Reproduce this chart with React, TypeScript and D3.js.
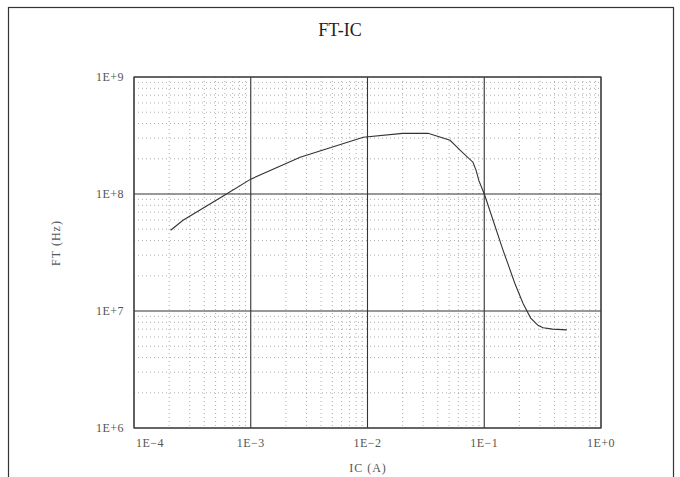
import React from "react";
import * as d3 from "d3";

const icValues = [2.06e-4, 2.63e-4, 6.0e-4, 1.0e-3, 2.65e-3, 9.2e-3, 2.0e-2, 3.3e-2, 5.1e-2, 6.2e-2, 8.0e-2, 8.5e-2, 9.0e-2, 0.101, 0.119, 0.145, 0.183, 0.215, 0.25, 0.29, 0.32, 0.385, 0.51];
const ftValues = [4.9e7, 5.96e7, 9.8e7, 1.34e8, 2.06e8, 3.06e8, 3.3e8, 3.3e8, 2.88e8, 2.37e8, 1.87e8, 1.6e8, 1.3e8, 9.75e7, 5.96e7, 3.3e7, 1.72e7, 1.16e7, 8.7e6, 7.5e6, 7.2e6, 7.0e6, 6.9e6];
const xTickValues = [1e-4, 1e-3, 1e-2, 1e-1, 1];
const xTickLabels = ["1E\u22124", "1E\u22123", "1E\u22122", "1E\u22121", "1E+0"];
const yTickValues = [1e6, 1e7, 1e8, 1e9];
const yTickLabels = ["1E+6", "1E+7", "1E+8", "1E+9"];
const title = "FT-IC";
const xTitle = "IC (A)";
const yTitle = "FT (Hz)";

const W = 680, H = 477;
const L = 134, R = 601, T = 77, B = 428;
const FONT = "'Liberation Serif', 'DejaVu Serif', serif";

export default function App() {
  const x = d3.scaleLog().domain([1e-4, 1]).range([L, R]);
  const y = d3.scaleLog().domain([1e6, 1e9]).range([B, T]);
  const minorX: number[] = [];
  for (let e = -4; e < 0; e++) for (let k = 2; k <= 9; k++) minorX.push(k * Math.pow(10, e));
  const minorY: number[] = [];
  for (let e = 6; e < 9; e++) for (let k = 2; k <= 9; k++) minorY.push(k * Math.pow(10, e));
  const pts = icValues.map((v, i) => [v, ftValues[i]] as [number, number]);
  const line = d3.line<[number, number]>().x(d => x(d[0])).y(d => y(d[1]));

  return (
    <svg width={W} height={H} style={{ position: "absolute", left: 0, top: 0, background: "#fff" }}>
      <rect x={8.5} y={7.5} width={665} height={480} fill="#fff" stroke="#333" strokeWidth={1.2} />
      <text x={340} y={36} textAnchor="middle" fontFamily={FONT} fontSize={18} fill="#222">{title}</text>
      {minorX.map((v, i) => (
        <line key={"mx" + i} x1={x(v)} x2={x(v)} y1={T} y2={B} stroke="#999" strokeWidth={0.8} strokeDasharray="1,3" />
      ))}
      {minorY.map((v, i) => (
        <line key={"my" + i} x1={L} x2={R} y1={y(v)} y2={y(v)} stroke="#999" strokeWidth={0.8} strokeDasharray="1,3" />
      ))}
      {xTickValues.map((v, i) => (
        <line key={"Mx" + i} x1={x(v)} x2={x(v)} y1={T} y2={B} stroke="#333" strokeWidth={1.1} />
      ))}
      {yTickValues.map((v, i) => (
        <line key={"My" + i} x1={L} x2={R} y1={y(v)} y2={y(v)} stroke="#333" strokeWidth={1.1} />
      ))}
      <rect x={L} y={T} width={R - L} height={B - T} fill="none" stroke="#444" strokeWidth={1.2} />
      <path d={line(pts) || ""} fill="none" stroke="#333" strokeWidth={1.1} />
      {xTickValues.map((v, i) => (
        <text key={"xl" + i} x={i === 0 ? x(v) + 16 : x(v)} y={447} textAnchor="middle" fontFamily={FONT} fontSize={12} letterSpacing={0.5} fill="#555">{xTickLabels[i]}</text>
      ))}
      {yTickValues.map((v, i) => (
        <text key={"yl" + i} x={124} y={y(v) + 4} textAnchor="end" fontFamily={FONT} fontSize={12} letterSpacing={0.5} fill="#555">{yTickLabels[i]}</text>
      ))}
      <text x={368} y={472} textAnchor="middle" fontFamily={FONT} fontSize={12} letterSpacing={1} fill="#555">{xTitle}</text>
      <text transform={`translate(60,243) rotate(-90)`} textAnchor="middle" fontFamily={FONT} fontSize={12} letterSpacing={1} fill="#555">{yTitle}</text>
    </svg>
  );
}
